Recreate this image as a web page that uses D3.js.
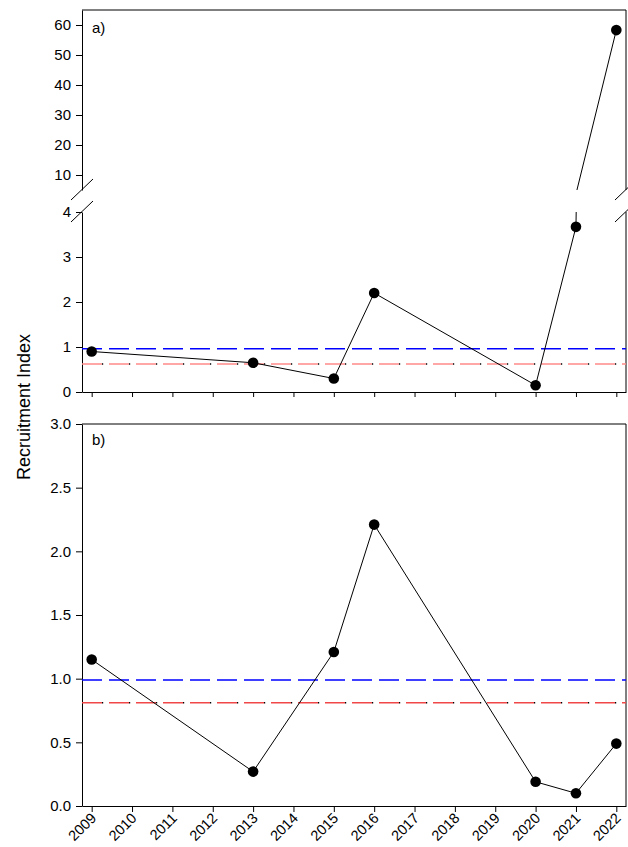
<!DOCTYPE html>
<html>
<head>
<meta charset="utf-8">
<script src="https://cdn.jsdelivr.net/npm/d3@7/dist/d3.min.js"></script>
<style>
  html, body { margin: 0; padding: 0; background: #fff; }
  svg text { font-family: "Liberation Sans", Arial, sans-serif; fill: #000; }
</style>
</head>
<body>
<svg id="chart" width="628" height="847"></svg>
<script>
// Survey years and recruitment indices
const years = [2009, 2013, 2015, 2016, 2020, 2021, 2022];
const indexA = [0.90, 0.65, 0.30, 2.20, 0.15, 3.67, 58.3];
const indexB = [1.15, 0.27, 1.21, 2.21, 0.19, 0.10, 0.49];

// Reference levels (blue and red dashed lines)
const refBlueA = 0.96, refRedA = 0.62;
const refBlueB = 0.99, refRedB = 0.81;

// Axis ticks
const xTickYears = d3.range(2009, 2023);
const ticksAUpper = [10, 20, 30, 40, 50, 60];
const ticksALower = [0, 1, 2, 3, 4];
const ticksB = [0, 0.5, 1.0, 1.5, 2.0, 2.5, 3.0];

const svg = d3.select("#chart");
const L = 82, R = 626;

const x = d3.scaleLinear().domain([2008.76, 2022.24]).range([L, R]);

// Panel a: broken y axis (lower 0–4, upper 5–65)
const yLo = d3.scaleLinear().domain([0, 4]).range([392, 212]);
const yHi = d3.scaleLinear().domain([5, 65]).range([190, 10]);
// Panel b
const yB = d3.scaleLinear().domain([0, 3]).range([806, 424]);

const fontTick = "15px";

function styleAxis(g) {
  g.selectAll("path.domain").attr("stroke", "#000").attr("stroke-width", 1);
  g.selectAll(".tick line").attr("stroke", "#000").attr("stroke-width", 1);
  g.selectAll(".tick text").style("font-size", fontTick)
    .style("font-family", '"Liberation Sans", Arial, sans-serif');
}

// ---------- Panel a ----------
const gA = svg.append("g");

// y axes (two segments)
gA.append("g").attr("transform", `translate(${L},0)`)
  .call(d3.axisLeft(yHi).tickValues(ticksAUpper).tickFormat(d3.format("d"))
    .tickSize(6).tickPadding(5).tickSizeOuter(0))
  .call(styleAxis);
gA.append("g").attr("transform", `translate(${L},0)`)
  .call(d3.axisLeft(yLo).tickValues(ticksALower).tickFormat(d3.format("d"))
    .tickSize(6).tickPadding(5).tickSizeOuter(0))
  .call(styleAxis);

// x axis (ticks only)
gA.append("g").attr("transform", `translate(0,${yLo(0)})`)
  .call(d3.axisBottom(x).tickValues(xTickYears).tickSize(5).tickFormat("").tickSizeOuter(0))
  .call(styleAxis);

// frame: top and right borders
gA.append("line").attr("x1", L).attr("x2", R).attr("y1", yHi(65)).attr("y2", yHi(65))
  .attr("stroke", "#000");
gA.append("line").attr("x1", R).attr("x2", R).attr("y1", yHi(65)).attr("y2", yHi(5))
  .attr("stroke", "#000");
gA.append("line").attr("x1", R).attr("x2", R).attr("y1", yLo(4)).attr("y2", yLo(0))
  .attr("stroke", "#000");

// break marks on both sides
[L, R].forEach(cx => {
  [yHi(5), yLo(4)].forEach(cy => {
    gA.append("line")
      .attr("x1", cx - 11).attr("y1", cy + 10)
      .attr("x2", cx + 11).attr("y2", cy - 11)
      .attr("stroke", "#000").attr("stroke-width", 1);
  });
});

// reference lines
function refLine(g, yPix, color, withDots) {
  g.append("line").attr("x1", L).attr("x2", R).attr("y1", yPix).attr("y2", yPix)
    .attr("stroke", color).attr("stroke-width", 1.5).attr("stroke-dasharray", "20,7");
  if (withDots) {
    g.append("line").attr("x1", L).attr("x2", R).attr("y1", yPix).attr("y2", yPix)
      .attr("stroke", "#000").attr("stroke-width", 1.5)
      .attr("stroke-dasharray", "1.2,25.8").attr("stroke-dashoffset", -20);
  }
}
refLine(gA, yLo(refBlueA), "#0000ff", false);
refLine(gA, yLo(refRedA), "#ff8a8a", true);

// data line across the break: split each segment in data space
const lowMax = 4, highMin = 5;
function place(yr, v) {
  return [x(yr), v <= lowMax ? yLo(v) : yHi(v)];
}
const piecesA = [];
for (let i = 0; i < years.length - 1; i++) {
  const x0 = years[i], v0 = indexA[i], x1 = years[i + 1], v1 = indexA[i + 1];
  const lo0 = v0 <= lowMax, lo1 = v1 <= lowMax;
  if (lo0 === lo1) {
    piecesA.push([place(x0, v0), place(x1, v1)]);
  } else {
    const at = v => x0 + (x1 - x0) * (v - v0) / (v1 - v0);
    if (lo0) {
      piecesA.push([place(x0, v0), [x(at(lowMax)), yLo(lowMax)]]);
      piecesA.push([[x(at(highMin)), yHi(highMin)], place(x1, v1)]);
    } else {
      piecesA.push([place(x0, v0), [x(at(highMin)), yHi(highMin)]]);
      piecesA.push([[x(at(lowMax)), yLo(lowMax)], place(x1, v1)]);
    }
  }
}
gA.selectAll("path.seg").data(piecesA).join("path")
  .attr("class", "seg")
  .attr("d", d => d3.line()(d))
  .attr("fill", "none").attr("stroke", "#000").attr("stroke-width", 1);

gA.selectAll("circle").data(years.map((yr, i) => place(yr, indexA[i]))).join("circle")
  .attr("cx", d => d[0]).attr("cy", d => d[1]).attr("r", 5.3).attr("fill", "#000");

gA.append("text").attr("x", 92).attr("y", 33).style("font-size", "15px").text("a)");

// ---------- Panel b ----------
const gB = svg.append("g");

gB.append("g").attr("transform", `translate(${L},0)`)
  .call(d3.axisLeft(yB).tickValues(ticksB).tickFormat(d3.format(".1f"))
    .tickSize(6).tickPadding(5).tickSizeOuter(0))
  .call(styleAxis);

const xAxisB = gB.append("g").attr("transform", `translate(0,${yB(0)})`)
  .call(d3.axisBottom(x).tickValues(xTickYears).tickFormat(d3.format("d"))
    .tickSize(6).tickSizeOuter(0))
  .call(styleAxis);
xAxisB.selectAll(".tick text")
  .attr("text-anchor", "end")
  .attr("dy", null)
  .attr("y", 0)
  .style("font-size", "14.5px")
  .attr("transform", "translate(5,13) rotate(-45)");

gB.append("line").attr("x1", L).attr("x2", R).attr("y1", yB(3)).attr("y2", yB(3))
  .attr("stroke", "#000");
gB.append("line").attr("x1", R).attr("x2", R).attr("y1", yB(3)).attr("y2", yB(0))
  .attr("stroke", "#000");

refLine(gB, yB(refBlueB), "#0000ff", false);
refLine(gB, yB(refRedB), "#f04848", true);

gB.append("path").datum(years.map((yr, i) => [yr, indexB[i]]))
  .attr("d", d3.line().x(d => x(d[0])).y(d => yB(d[1])))
  .attr("fill", "none").attr("stroke", "#000").attr("stroke-width", 1);

gB.selectAll("circle").data(years.map((yr, i) => [yr, indexB[i]])).join("circle")
  .attr("cx", d => x(d[0])).attr("cy", d => yB(d[1])).attr("r", 5.3).attr("fill", "#000");

gB.append("text").attr("x", 92).attr("y", 445).style("font-size", "15px").text("b)");

// Shared y-axis title
svg.append("text")
  .attr("transform", "translate(30,407) rotate(-90)")
  .attr("text-anchor", "middle")
  .style("font-size", "18px")
  .text("Recruitment Index");
</script>
</body>
</html>
